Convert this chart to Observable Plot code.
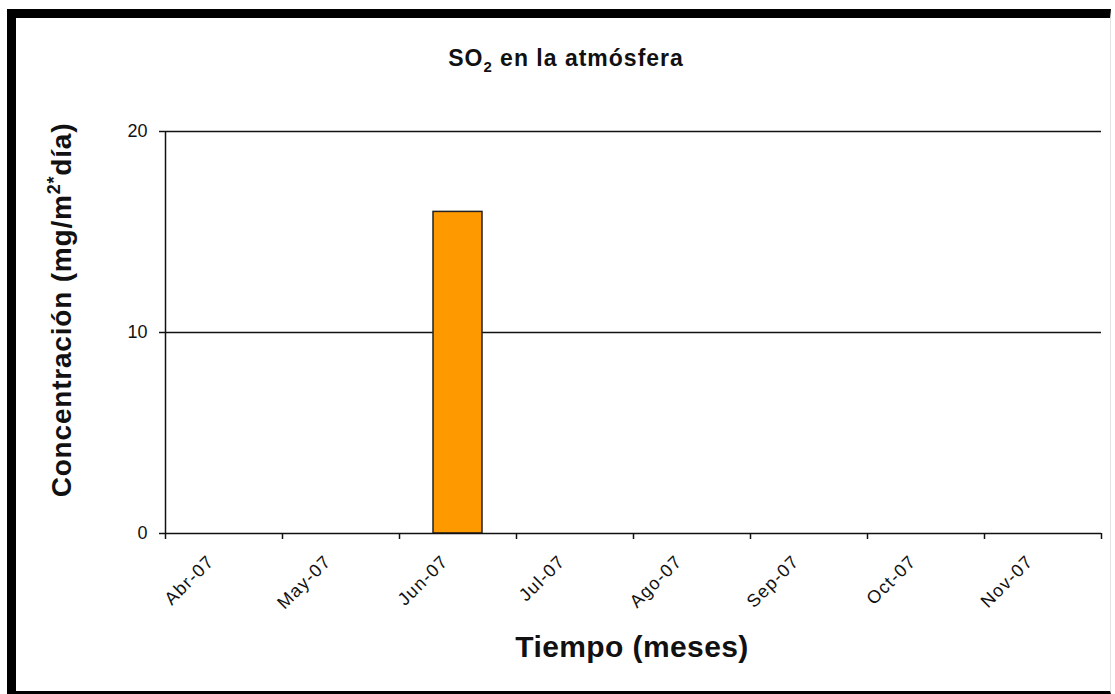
<!DOCTYPE html>
<html>
<head>
<meta charset="utf-8">
<script src="https://cdn.jsdelivr.net/npm/d3@7"></script>
<script src="https://cdn.jsdelivr.net/npm/@observablehq/plot@0.6"></script>
<style>
  html, body { margin: 0; padding: 0; background: #fff; }
  #wrap { position: relative; width: 1115px; height: 694px; overflow: hidden; }
  #chart { position: absolute; left: 0; top: 0; }
  #frame { position: absolute; left: 7px; top: 9px; width: 1104px; height: 685px; box-sizing: border-box;
           border-top: 9px solid #000; border-left: 9px solid #000; border-bottom: 3px solid #000; border-right: 1px solid #e4e4e4;
           pointer-events: none; }
</style>
</head>
<body>
<div id="wrap"><div id="chart"></div><div id="frame"></div></div>
<script>
const months = ["Abr-07","May-07","Jun-07","Jul-07","Ago-07","Sep-07","Oct-07","Nov-07"];
const so2 = [null, null, 16, null, null, null, null, null];
const yTicks = [0, 10, 20];
const gridValues = [10, 20];

const data = months.map((m, i) => ({month: m, i, value: so2[i]}));
const font = "'Liberation Sans', Arial, sans-serif";

const plot = Plot.plot({
  width: 1115,
  height: 694,
  marginLeft: 165,
  marginRight: 14,
  marginTop: 131,
  marginBottom: 161,
  style: {fontFamily: font, background: "transparent", color: "#111"},
  x: {type: "linear", domain: [0, months.length]},
  y: {domain: [0, 20]},
  marks: [
    Plot.ruleY(gridValues, {stroke: "#111", strokeWidth: 1.5}),
    Plot.rectY(data.filter(d => d.value != null), {
      x1: "i", x2: d => d.i + 1, y1: 0, y2: "value",
      insetLeft: 34, insetRight: 34,
      fill: "#FF9900", stroke: "#222", strokeWidth: 1.5
    }),
    Plot.ruleX([0], {stroke: "#111", strokeWidth: 1.5}),
    Plot.ruleY([0], {stroke: "#111", strokeWidth: 1.5}),
    Plot.axisY({ticks: yTicks, tickSize: 6, tickPadding: 12, fontSize: 18, label: null, tickFormat: d => d, strokeWidth: 1.5}),
    Plot.axisX({ticks: d3.range(months.length + 1), tickSize: 6, tickFormat: () => "", label: null, strokeWidth: 1.5}),
    Plot.text(data, {
      x: d => d.i + 0.5, text: "month", frameAnchor: "bottom",
      rotate: -45, textAnchor: "end", lineAnchor: "middle",
      dx: -13, dy: 25, fontSize: 18, fill: "#111"
    })
  ]
});
document.getElementById("chart").appendChild(plot);

const svg = d3.select(plot);
svg.selectAll('g[aria-label="text"] text').attr("letter-spacing", "1.2px");

// Title with subscript
const title = svg.append("text")
  .attr("x", 566).attr("y", 66)
  .attr("text-anchor", "middle")
  .attr("font-family", font).attr("font-weight", "bold")
  .attr("font-size", 23).attr("letter-spacing", "1px").attr("fill", "#111");
title.append("tspan").text("SO");
title.append("tspan").attr("font-size", 15).attr("dy", 6).text("2");
title.append("tspan").attr("dy", -6).text(" en la atmósfera");

// Y label with superscript
const ylab = svg.append("text")
  .attr("transform", "translate(71,310) rotate(-90)")
  .attr("text-anchor", "middle")
  .attr("font-family", font).attr("font-weight", "bold")
  .attr("font-size", 28).attr("letter-spacing", "0.8px").attr("fill", "#111");
ylab.append("tspan").text("Concentración (mg/m");
ylab.append("tspan").attr("font-size", 18).attr("dy", -11).text("2*");
ylab.append("tspan").attr("dy", 11).text("día)");

// X label
svg.append("text")
  .attr("x", 632).attr("y", 657)
  .attr("text-anchor", "middle")
  .attr("font-family", font).attr("font-weight", "bold")
  .attr("font-size", 30).attr("letter-spacing", "0.4px").attr("fill", "#111")
  .text("Tiempo (meses)");
</script>
</body>
</html>
